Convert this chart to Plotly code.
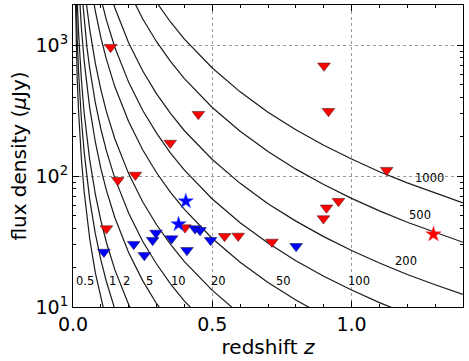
import math
import plotly.graph_objects as go

curve_z = [0.005, 0.01, 0.015, 0.02, 0.03, 0.04, 0.05, 0.06, 0.08, 0.1, 0.12, 0.15,
           0.2, 0.25, 0.3, 0.35, 0.4, 0.5, 0.6, 0.7, 0.8, 0.9, 1.0, 1.1, 1.2, 1.3, 1.4]

flux_0p5 = [5092, 1264, 559, 313, 137, 76.3, 48.3, 33.2, 18.3, 11.4, 7.78, 4.83, 2.60, 1.59,
            1.06, 0.752, 0.556, 0.334, 0.220, 0.154, 0.113, 0.0862, 0.0676, 0.0542, 0.0444, 0.0370, 0.0312]
flux_1 = [10184, 2527, 1118, 625, 274, 153, 96.6, 66.4, 36.5, 22.9, 15.6, 9.65, 5.20, 3.18,
          2.13, 1.50, 1.11, 0.669, 0.440, 0.308, 0.226, 0.172, 0.135, 0.108, 0.0887, 0.0739, 0.0624]
flux_2 = [20368, 5054, 2236, 1251, 549, 305, 193, 133, 73.0, 45.8, 31.1, 19.3, 10.4, 6.37,
          4.25, 3.01, 2.22, 1.34, 0.880, 0.616, 0.453, 0.345, 0.270, 0.217, 0.177, 0.148, 0.125]
flux_5 = [50920, 12635, 5590, 3127, 1372, 763, 483, 332, 183, 114, 77.8, 48.3, 26.0, 15.9,
          10.6, 7.52, 5.56, 3.34, 2.20, 1.54, 1.13, 0.862, 0.676, 0.542, 0.444, 0.370, 0.312]
flux_10 = [101840, 25270, 11180, 6253, 2744, 1526, 966, 664, 365, 229, 156, 96.5, 52.0, 31.8,
           21.3, 15.0, 11.1, 6.69, 4.40, 3.08, 2.26, 1.72, 1.35, 1.08, 0.887, 0.739, 0.624]
flux_20 = [203680, 50540, 22360, 12506, 5488, 3052, 1933, 1327, 730, 458, 311, 193, 104, 63.7,
           42.5, 30.1, 22.2, 13.4, 8.80, 6.16, 4.53, 3.45, 2.70, 2.17, 1.77, 1.48, 1.25]
flux_50 = [509200, 126350, 55900, 31265, 13720, 7630, 4832, 3318, 1825, 1144, 778, 483, 260, 159,
           106, 75.2, 55.6, 33.4, 22.0, 15.4, 11.3, 8.62, 6.76, 5.42, 4.44, 3.70, 3.12]
flux_100 = [1018400, 252700, 111800, 62530, 27440, 15260, 9664, 6635, 3650, 2288, 1555, 965, 520, 318,
            213, 150, 111, 66.9, 44.0, 30.8, 22.6, 17.2, 13.5, 10.8, 8.87, 7.39, 6.24]
flux_200 = [2036800, 505400, 223600, 125060, 54880, 30520, 19328, 13270, 7300, 4576, 3110, 1931, 1039, 637,
            425, 301, 222, 134, 88.0, 61.6, 45.3, 34.5, 27.0, 21.7, 17.7, 14.8, 12.5]
flux_500 = [5092000, 1263500, 559000, 312650, 137200, 76300, 48320, 33175, 18250, 11440, 7775, 4827, 2598, 1592,
            1063, 752, 556, 334, 220, 154, 113, 86.2, 67.6, 54.2, 44.4, 37.0, 31.2]
flux_1000 = [10184000, 2527000, 1118000, 625300, 274400, 152600, 96640, 66350, 36500, 22880, 15550, 9654, 5195, 3184,
             2125, 1504, 1112, 669, 440, 308, 226, 172, 135, 108, 88.7, 73.9, 62.4]

curve_labels = ["0.5", "1", "2", "5", "10", "20", "50", "100", "200", "500", "1000"]
curve_fluxes = [flux_0p5, flux_1, flux_2, flux_5, flux_10, flux_20, flux_50,
                flux_100, flux_200, flux_500, flux_1000]
label_z = [0.042, 0.143, 0.193, 0.274, 0.379, 0.524, 0.754, 1.027, 1.196, 1.244, 1.280]
label_flux = [15.8, 15.8, 15.8, 15.8, 15.8, 15.9, 15.9, 15.9, 22.5, 50.2, 95.9]

# upper limits
red_lim_z = [0.135, 0.161, 0.224, 0.349, 0.450, 0.901, 0.917, 1.126, 0.120, 0.402,
             0.544, 0.593, 0.714, 0.899, 0.910, 0.953]
red_lim_flux = [966, 93, 102, 179, 297, 696, 313, 111, 39.7, 40.4,
                34.7, 34.9, 31.4, 47.4, 57.2, 64.3]
blue_lim_z = [0.111, 0.218, 0.256, 0.286, 0.298, 0.354, 0.409, 0.438, 0.456, 0.494, 0.801]
blue_lim_flux = [26.3, 30.2, 24.8, 32.4, 36.8, 33.3, 27.1, 39.7, 38.5, 32.4, 29.1]

# detections
blue_det_z = [0.405, 0.379]
blue_det_flux = [64.3, 42.9]
red_det_z = [1.294]
red_det_flux = [35.9]

fig = go.Figure()

for flux in curve_fluxes:
    fig.add_trace(go.Scatter(x=curve_z, y=flux, mode="lines",
                             line=dict(color="#1a1a1a", width=1.2),
                             hoverinfo="skip", showlegend=False))

fig.add_trace(go.Scatter(x=red_lim_z, y=red_lim_flux, mode="markers", showlegend=False,
                         marker=dict(symbol="triangle-down", size=11, color="#ff0000",
                                     line=dict(color="#552222", width=0.6))))
fig.add_trace(go.Scatter(x=blue_lim_z, y=blue_lim_flux, mode="markers", showlegend=False,
                         marker=dict(symbol="triangle-down", size=11, color="#0000ff",
                                     line=dict(color="#222255", width=0.6))))
fig.add_trace(go.Scatter(x=blue_det_z, y=blue_det_flux, mode="markers", showlegend=False,
                         marker=dict(symbol="star", size=11.5, color="#0000ff",
                                     line=dict(color="#3355ff", width=0.5))))
fig.add_trace(go.Scatter(x=red_det_z, y=red_det_flux, mode="markers", showlegend=False,
                         marker=dict(symbol="star", size=11.5, color="#ff0000",
                                     line=dict(color="#ff3333", width=0.5))))

# annotations on a log axis take log10 positions
for txt, lz, lf in zip(curve_labels, label_z, label_flux):
    fig.add_annotation(x=lz, y=math.log10(lf), text=txt, showarrow=False,
                       font=dict(family="DejaVu Sans", size=11.5, color="black"))

tick_font = dict(family="DejaVu Sans", size=19, color="black")
title_font = dict(family="DejaVu Sans", size=20, color="black")

fig.update_xaxes(range=[0, 1.4], tickvals=[0, 0.5, 1.0], ticktext=["0.0", "0.5", "1.0"],
                 ticks="inside", ticklen=6, tickcolor="black", mirror="allticks",
                 showline=True, linecolor="black", linewidth=1.2, automargin=False,
                 showgrid=True, gridcolor="#999999", griddash="dot", gridwidth=1,
                 zeroline=False, tickfont=tick_font,
                 minor=dict(tickvals=[0.1, 0.2, 0.3, 0.4, 0.6, 0.7, 0.8, 0.9, 1.1, 1.2, 1.3],
                            ticks="inside", ticklen=3, tickcolor="black", showgrid=False),
                 title=dict(text="redshift <i>z</i>", font=title_font, standoff=1))
fig.update_yaxes(type="log", range=[1, 3.307], tickvals=[10, 100, 1000],
                 ticktext=["10<sup>1</sup>", "10<sup>2</sup>", "10<sup>3</sup>"],
                 ticks="inside", ticklen=6, tickcolor="black", mirror="allticks",
                 showline=True, linecolor="black", linewidth=1.2, automargin=False,
                 showgrid=True, gridcolor="#999999", griddash="dot", gridwidth=1,
                 zeroline=False, tickfont=tick_font,
                 minor=dict(dtick="D1", ticks="inside", ticklen=3, tickcolor="black", showgrid=False),
                 title=dict(text="flux density (<i>μ</i>Jy)", font=title_font, standoff=3))

fig.update_layout(width=469, height=361, plot_bgcolor="white", paper_bgcolor="white",
                  margin=dict(l=73, r=6, t=5, b=54),
                  font=dict(family="DejaVu Sans", color="black"))

fig.write_html("out.html", config={"displayModeBar": False},
               post_script="document.body.style.margin='0';")
